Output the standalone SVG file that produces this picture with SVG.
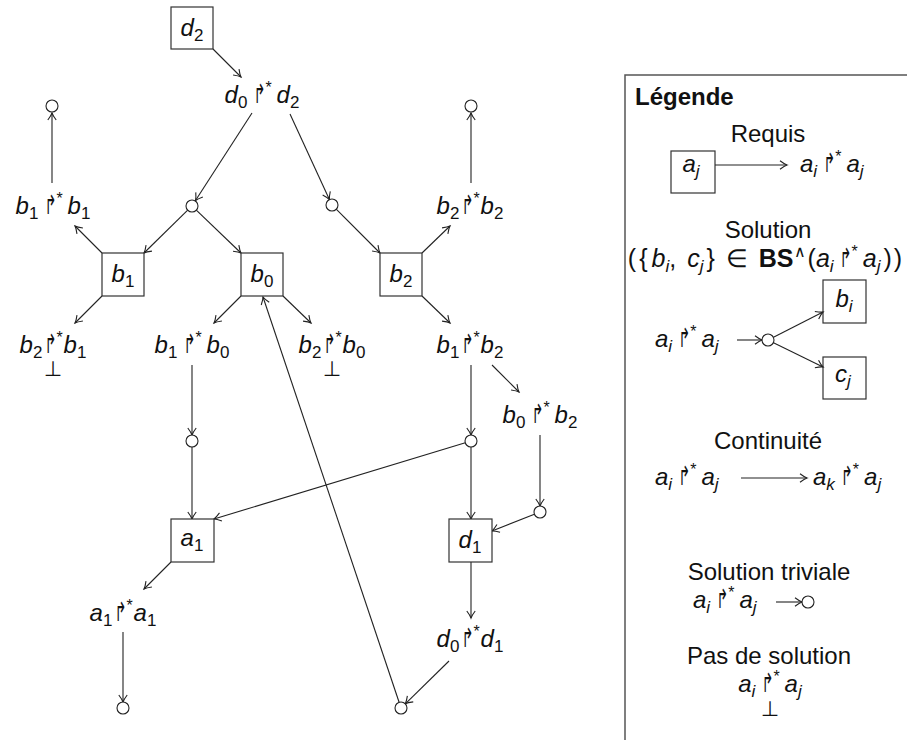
<svg xmlns="http://www.w3.org/2000/svg" width="907" height="740" viewBox="0 0 907 740">
<defs>
<marker id="ah" viewBox="-9 -6 11 12" refX="0" refY="0" markerWidth="11" markerHeight="12" orient="auto" markerUnits="userSpaceOnUse">
<path d="M-7,-4.2 Q-2.5,-0.8 0,0 Q-2.5,0.8 -7,4.2" fill="none" stroke="#222" stroke-width="1.1"/>
</marker>
<style>
.t{font-family:"Liberation Sans",Arial,sans-serif;font-size:24px;fill:#111}
.b{font-weight:bold}
.m{font-family:"Liberation Sans",Arial,sans-serif;font-size:24px;font-style:italic;fill:#111}
.sb{font-size:17px;font-style:normal}
.si{font-size:17px}
.op{font-family:"DejaVu Sans",sans-serif;font-style:normal;font-size:26px}
.st{font-family:"Liberation Sans",Arial,sans-serif;font-style:normal;font-size:16px}
.up{font-style:normal}
.bot{font-family:"DejaVu Sans",sans-serif;font-size:21px;fill:#111;text-anchor:middle}
.c{text-anchor:middle}
.box{fill:#fff;stroke:#333;stroke-width:1.2}
.nd{fill:#fff;stroke:#222;stroke-width:1.1}
.e{stroke:#222;stroke-width:1.1;fill:none;marker-end:url(#ah)}
.lg{fill:#fff;stroke:#555;stroke-width:1.5}
</style>
</defs>
<rect width="907" height="740" fill="#fff"/>

<g id="connectors">
<line class="e" x1="213" y1="49" x2="241" y2="77"/>
<line class="e" x1="252" y1="113" x2="195.5" y2="200.5"/>
<line class="e" x1="290" y1="114" x2="329.4" y2="199.6"/>
<line class="e" x1="187.7" y1="210.2" x2="144" y2="253"/>
<line class="e" x1="196.3" y1="210.2" x2="241" y2="253"/>
<line class="e" x1="336.2" y1="209.2" x2="380" y2="253"/>
<line class="e" x1="102" y1="253" x2="75" y2="226"/>
<line class="e" x1="52" y1="183" x2="52" y2="113"/>
<line class="e" x1="102" y1="296" x2="75" y2="323"/>
<line class="e" x1="241" y1="296" x2="214" y2="323"/>
<line class="e" x1="283" y1="296" x2="311" y2="323"/>
<line class="e" x1="422" y1="253" x2="450" y2="226"/>
<line class="e" x1="471" y1="183" x2="471" y2="113"/>
<line class="e" x1="422" y1="296" x2="450" y2="323"/>
<line class="e" x1="192" y1="365" x2="192" y2="435"/>
<line class="e" x1="192" y1="447" x2="192" y2="519"/>
<line class="e" x1="465.3" y1="442.7" x2="214" y2="519"/>
<line class="e" x1="471" y1="365" x2="471" y2="435"/>
<line class="e" x1="471" y1="447" x2="471" y2="519"/>
<line class="e" x1="492" y1="365" x2="519" y2="392"/>
<line class="e" x1="540" y1="435" x2="540" y2="506"/>
<line class="e" x1="534.4" y1="514.2" x2="492" y2="531"/>
<line class="e" x1="171" y1="562" x2="144" y2="589"/>
<line class="e" x1="123" y1="632" x2="123" y2="702"/>
<line class="e" x1="471" y1="562" x2="471" y2="618"/>
<line class="e" x1="449" y1="661" x2="405.3" y2="703.8"/>
<line class="e" x1="399.1" y1="702.3" x2="263" y2="297"/>
</g>

<g id="n-d2"><rect class="box" x="171" y="7" width="42" height="42"/><text class="m c" x="192" y="36">d<tspan class="sb" dy="5">2</tspan></text></g>
<g id="n-b1"><rect class="box" x="102" y="253" width="42" height="43"/><text class="m c" x="123" y="282">b<tspan class="sb" dy="5">1</tspan></text></g>
<g id="n-b0"><rect class="box" x="241" y="253" width="42" height="43"/><text class="m c" x="262" y="282">b<tspan class="sb" dy="5">0</tspan></text></g>
<g id="n-b2"><rect class="box" x="380" y="253" width="42" height="43"/><text class="m c" x="401" y="282">b<tspan class="sb" dy="5">2</tspan></text></g>
<g id="n-a1"><rect class="box" x="171" y="519" width="43" height="43"/><text class="m c" x="192" y="546">a<tspan class="sb" dy="5">1</tspan></text></g>
<g id="n-d1"><rect class="box" x="449" y="519" width="43" height="43"/><text class="m c" x="470" y="548">d<tspan class="sb" dy="5">1</tspan></text></g>

<g id="n-d0d2"><text class="m c" x="262" y="103">d<tspan class="sb" dy="5">0</tspan><tspan class="op" dy="-5" dx="6" textLength="12" lengthAdjust="spacingAndGlyphs">↱</tspan><tspan class="st" dy="-10">*</tspan><tspan dy="10" dx="5">d</tspan><tspan class="sb" dy="5">2</tspan></text></g>
<g id="n-b1b1"><text class="m c" x="53" y="214">b<tspan class="sb" dy="5">1</tspan><tspan class="op" dy="-5" dx="6" textLength="12" lengthAdjust="spacingAndGlyphs">↱</tspan><tspan class="st" dy="-10">*</tspan><tspan dy="10" dx="5">b</tspan><tspan class="sb" dy="5">1</tspan></text></g>
<g id="n-b2b2"><text class="m c" x="470" y="214">b<tspan class="sb" dy="5">2</tspan><tspan class="op" dy="-5" dx="2" textLength="12" lengthAdjust="spacingAndGlyphs">↱</tspan><tspan class="st" dy="-10">*</tspan><tspan dy="10" dx="1">b</tspan><tspan class="sb" dy="5">2</tspan></text></g>
<g id="n-b2b1"><text class="m c" x="53" y="353">b<tspan class="sb" dy="5">2</tspan><tspan class="op" dy="-5" dx="2" textLength="12" lengthAdjust="spacingAndGlyphs">↱</tspan><tspan class="st" dy="-10">*</tspan><tspan dy="10" dx="1">b</tspan><tspan class="sb" dy="5">1</tspan></text><text class="bot" x="53" y="376">⊥</text></g>
<g id="n-b1b0"><text class="m c" x="192" y="353">b<tspan class="sb" dy="5">1</tspan><tspan class="op" dy="-5" dx="6" textLength="12" lengthAdjust="spacingAndGlyphs">↱</tspan><tspan class="st" dy="-10">*</tspan><tspan dy="10" dx="5">b</tspan><tspan class="sb" dy="5">0</tspan></text></g>
<g id="n-b2b0"><text class="m c" x="332" y="353">b<tspan class="sb" dy="5">2</tspan><tspan class="op" dy="-5" dx="2" textLength="12" lengthAdjust="spacingAndGlyphs">↱</tspan><tspan class="st" dy="-10">*</tspan><tspan dy="10" dx="1">b</tspan><tspan class="sb" dy="5">0</tspan></text><text class="bot" x="332" y="376">⊥</text></g>
<g id="n-b1b2"><text class="m c" x="470" y="353">b<tspan class="sb" dy="5">1</tspan><tspan class="op" dy="-5" dx="2" textLength="12" lengthAdjust="spacingAndGlyphs">↱</tspan><tspan class="st" dy="-10">*</tspan><tspan dy="10" dx="1">b</tspan><tspan class="sb" dy="5">2</tspan></text></g>
<g id="n-b0b2"><text class="m c" x="540" y="423">b<tspan class="sb" dy="5">0</tspan><tspan class="op" dy="-5" dx="6" textLength="12" lengthAdjust="spacingAndGlyphs">↱</tspan><tspan class="st" dy="-10">*</tspan><tspan dy="10" dx="5">b</tspan><tspan class="sb" dy="5">2</tspan></text></g>
<g id="n-a1a1"><text class="m c" x="123" y="621">a<tspan class="sb" dy="5">1</tspan><tspan class="op" dy="-5" dx="2" textLength="12" lengthAdjust="spacingAndGlyphs">↱</tspan><tspan class="st" dy="-10">*</tspan><tspan dy="10" dx="1">a</tspan><tspan class="sb" dy="5">1</tspan></text></g>
<g id="n-d0d1"><text class="m c" x="470" y="647">d<tspan class="sb" dy="5">0</tspan><tspan class="op" dy="-5" dx="2" textLength="12" lengthAdjust="spacingAndGlyphs">↱</tspan><tspan class="st" dy="-10">*</tspan><tspan dy="10" dx="1">d</tspan><tspan class="sb" dy="5">1</tspan></text></g>

<g id="s1"><circle class="nd" cx="52" cy="106" r="6"/></g>
<g id="s2"><circle class="nd" cx="192" cy="206" r="6"/></g>
<g id="s3"><circle class="nd" cx="332" cy="205" r="6"/></g>
<g id="s4"><circle class="nd" cx="471" cy="106" r="6"/></g>
<g id="s5"><circle class="nd" cx="192" cy="441" r="6"/></g>
<g id="s6"><circle class="nd" cx="471" cy="441" r="6"/></g>
<g id="s7"><circle class="nd" cx="540" cy="512" r="6"/></g>
<g id="s8"><circle class="nd" cx="123" cy="708" r="6"/></g>
<g id="s9"><circle class="nd" cx="401" cy="708" r="6"/></g>

<g id="legend">
<rect class="lg" x="625" y="75" width="300" height="700"/>
<text class="t b" x="635" y="105">Légende</text>
<text class="t c" x="768" y="142">Requis</text>
<rect class="box" x="671" y="151" width="44" height="42"/>
<text class="m c" x="691" y="172">a<tspan class="si" dy="5">j</tspan></text>
<line class="e" x1="715" y1="165" x2="787" y2="165"/>
<text class="m" x="800" y="172">a<tspan class="si" dy="5">i</tspan><tspan class="op" dy="-5" dx="6" textLength="12" lengthAdjust="spacingAndGlyphs">↱</tspan><tspan class="st" dy="-10">*</tspan><tspan dy="10" dx="5">a</tspan><tspan class="si" dy="5">j</tspan></text>

<text class="t c" x="768" y="238">Solution</text>
<text class="m c" x="765" y="267" style="font-size:25px"><tspan class="up">(</tspan><tspan class="up" dx="3">{</tspan><tspan dx="4">b</tspan><tspan class="si" dy="5">i</tspan><tspan class="up" dy="-5">,</tspan><tspan dx="11">c</tspan><tspan class="si" dy="5">j</tspan><tspan class="up" dy="-5" dx="3">}</tspan><tspan class="up" dx="11">∈</tspan><tspan class="up b" dx="11">BS</tspan><tspan class="st" dy="-10">∧</tspan><tspan class="up" dy="10" dx="2">(</tspan>a<tspan class="si" dy="5">i</tspan><tspan class="op" dy="-5" dx="6" textLength="12" lengthAdjust="spacingAndGlyphs">↱</tspan><tspan class="st" dy="-10">*</tspan><tspan dy="10" dx="5">a</tspan><tspan class="si" dy="5">j</tspan><tspan class="up" dy="-5" dx="3">)</tspan><tspan class="up" dx="2">)</tspan></text>
<rect class="box" x="823" y="280" width="43" height="43"/>
<text class="m c" x="844" y="307">b<tspan class="si" dy="5">i</tspan></text>
<rect class="box" x="823" y="357" width="43" height="42"/>
<text class="m c" x="843" y="382">c<tspan class="si" dy="5">j</tspan></text>
<text class="m" x="655" y="347">a<tspan class="si" dy="5">i</tspan><tspan class="op" dy="-5" dx="6" textLength="12" lengthAdjust="spacingAndGlyphs">↱</tspan><tspan class="st" dy="-10">*</tspan><tspan dy="10" dx="5">a</tspan><tspan class="si" dy="5">j</tspan></text>
<line class="e" x1="737" y1="340" x2="762" y2="340"/>
<line class="e" x1="773.5" y1="337.3" x2="823" y2="312"/>
<line class="e" x1="773.5" y1="342.8" x2="823" y2="367"/>
<circle class="nd" cx="768" cy="340" r="6"/>

<text class="t c" x="768" y="449">Continuité</text>
<text class="m" x="655" y="485">a<tspan class="si" dy="5">i</tspan><tspan class="op" dy="-5" dx="6" textLength="12" lengthAdjust="spacingAndGlyphs">↱</tspan><tspan class="st" dy="-10">*</tspan><tspan dy="10" dx="5">a</tspan><tspan class="si" dy="5">j</tspan></text>
<line class="e" x1="741" y1="478" x2="807" y2="478"/>
<text class="m" x="813" y="485">a<tspan class="si" dy="5">k</tspan><tspan class="op" dy="-5" dx="6" textLength="12" lengthAdjust="spacingAndGlyphs">↱</tspan><tspan class="st" dy="-10">*</tspan><tspan dy="10" dx="5">a</tspan><tspan class="si" dy="5">j</tspan></text>

<text class="t c" x="769" y="580">Solution triviale</text>
<text class="m" x="693" y="608">a<tspan class="si" dy="5">i</tspan><tspan class="op" dy="-5" dx="6" textLength="12" lengthAdjust="spacingAndGlyphs">↱</tspan><tspan class="st" dy="-10">*</tspan><tspan dy="10" dx="5">a</tspan><tspan class="si" dy="5">j</tspan></text>
<line class="e" x1="776" y1="602" x2="802" y2="602"/>
<circle class="nd" cx="808" cy="602" r="6"/>

<text class="t c" x="769" y="664">Pas de solution</text>
<text class="m c" x="770" y="692">a<tspan class="si" dy="5">i</tspan><tspan class="op" dy="-5" dx="6" textLength="12" lengthAdjust="spacingAndGlyphs">↱</tspan><tspan class="st" dy="-10">*</tspan><tspan dy="10" dx="5">a</tspan><tspan class="si" dy="5">j</tspan></text>
<text class="bot" x="770" y="716">⊥</text>
</g>
</svg>
